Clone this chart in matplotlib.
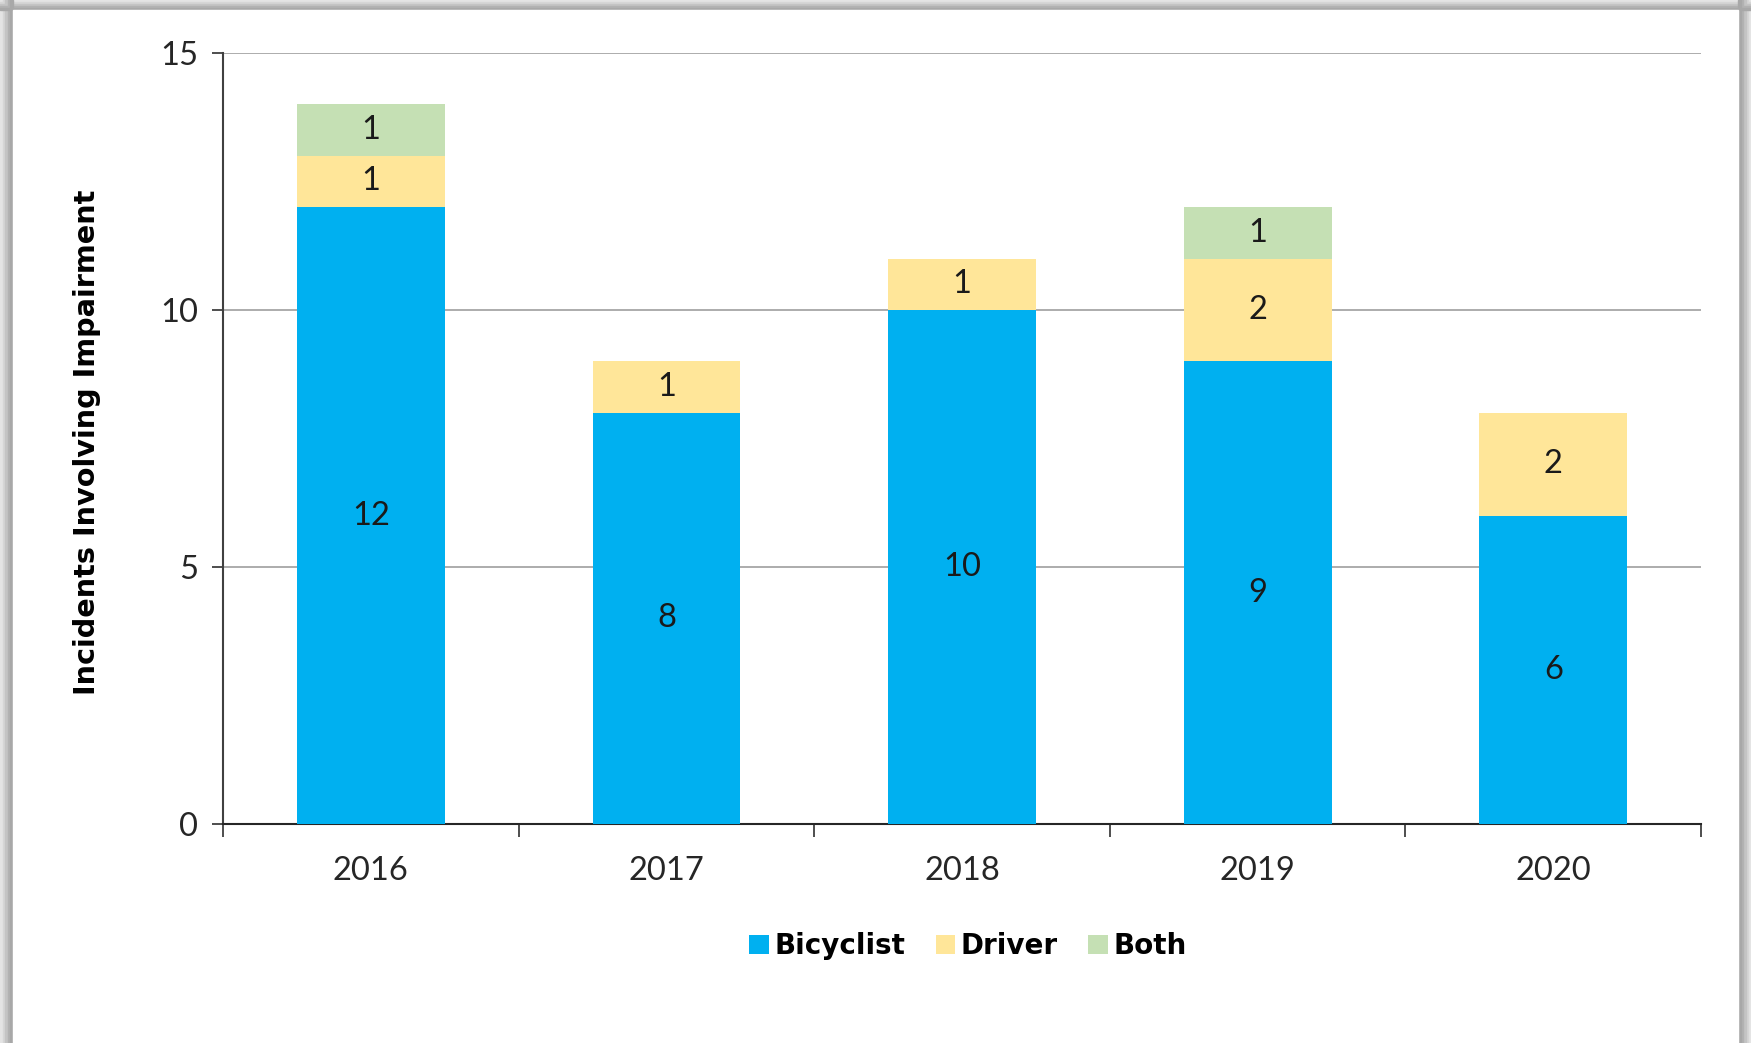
import matplotlib
matplotlib.use("Agg")
import matplotlib.pyplot as plt
from matplotlib.patches import Rectangle
from matplotlib.ticker import FixedLocator, NullFormatter
import numpy as np

years = ["2016", "2017", "2018", "2019", "2020"]
bicyclist = [12, 8, 10, 9, 6]
driver = [1, 1, 1, 2, 2]
both = [1, 0, 0, 1, 0]
series_names = ["Bicyclist", "Driver", "Both"]
colors = ["#00B0F0", "#FFE699", "#C5E0B4"]
yticks = [0, 5, 10, 15]

plt.rcParams['font.family'] = ['Lato', 'DejaVu Sans']

W, H = 1751, 1043
fig = plt.figure(figsize=(W / 100, H / 100), dpi=100)

# frame shadow strips
def strip(x0, y0, w, h, c):
    fig.patches.append(Rectangle((x0 / W, 1 - (y0 + h) / H), w / W, h / H,
                                 transform=fig.transFigure, color=c, zorder=-10))
shades = ["#e4e4e4", "#d6d6d6", "#c4c4c4", "#b2b2b2", "#a8a8a8"]
for i, c in enumerate(shades):
    strip(0, 2 * i, W, 2, c)             # top
    strip(2.6 * i, 0, 2.6, H, c)         # left
    strip(W - 2.6 * (i + 1), 0, 2.6, H, c)  # right
fig.patches.append(Rectangle((13 / W, 0), (W - 26) / W, 1 - 10 / H,
                             transform=fig.transFigure, color="white", zorder=-9))

ax = fig.add_axes([223 / W, 1 - 824 / H, (1701 - 223) / W, (824 - 53) / H])
ax.set_facecolor("none")
x = np.arange(len(years))
width = 0.5
bottom = np.zeros(len(years))
for name, vals, col in zip(series_names, [bicyclist, driver, both], colors):
    vals = np.array(vals, dtype=float)
    bars = ax.bar(x, vals, width, bottom=bottom, color=col, label=name, zorder=3)
    for xi, b, v in zip(x, bottom, vals):
        if v > 0:
            ax.text(xi, b + v / 2, f"{int(v)}", ha="center", va="center",
                    fontsize=23.5, color="#1a1a1a", zorder=4)
    bottom += vals

ax.set_xlim(-0.5, len(years) - 0.5)
ax.set_ylim(0, 15)
ax.set_yticks(yticks)
ax.set_yticklabels([str(t) for t in yticks], fontsize=23.5, color="#262626")
ax.yaxis.grid(True, color="#a6a6a6", linewidth=1.3, zorder=0)
ax.tick_params(axis="y", length=8, width=1.3, color="#404040", pad=10)

ax.xaxis.set_major_locator(FixedLocator(np.arange(-0.5, len(years), 1.0)))
ax.xaxis.set_major_formatter(NullFormatter())
ax.xaxis.set_minor_locator(FixedLocator(x))
ax.set_xticks(x, minor=True)
ax.set_xticklabels(years, minor=True, fontsize=23.5, color="#262626")
ax.tick_params(axis="x", which="major", length=9, width=1.3, color="#404040")
ax.tick_params(axis="x", which="minor", length=0, pad=23)

for s in ["top", "right"]:
    ax.spines[s].set_visible(False)
ax.spines["left"].set_color("#404040")
ax.spines["left"].set_linewidth(1.5)
ax.spines["bottom"].set_color("#262626")
ax.spines["bottom"].set_linewidth(1.5)

ax.set_ylabel("Incidents Involving Impairment", fontsize=20.7, fontweight="bold",
              family=["DejaVu Sans"])
ax.yaxis.set_label_coords((87 - 223) / 1478, (824 - 442) / 771)
ax.yaxis.label.set_verticalalignment("center")

handles, labels = ax.get_legend_handles_labels()
leg = fig.legend(handles, labels, loc="center", bbox_to_anchor=(968 / W, 1 - 946 / H),
                 ncol=3, frameon=False,
                 prop={"size": 20, "weight": "bold", "family": ["DejaVu Sans"]},
                 handlelength=0.7, handleheight=0.7, handletextpad=0.2,
                 columnspacing=1.1)

fig.savefig("out.png", dpi=100)
